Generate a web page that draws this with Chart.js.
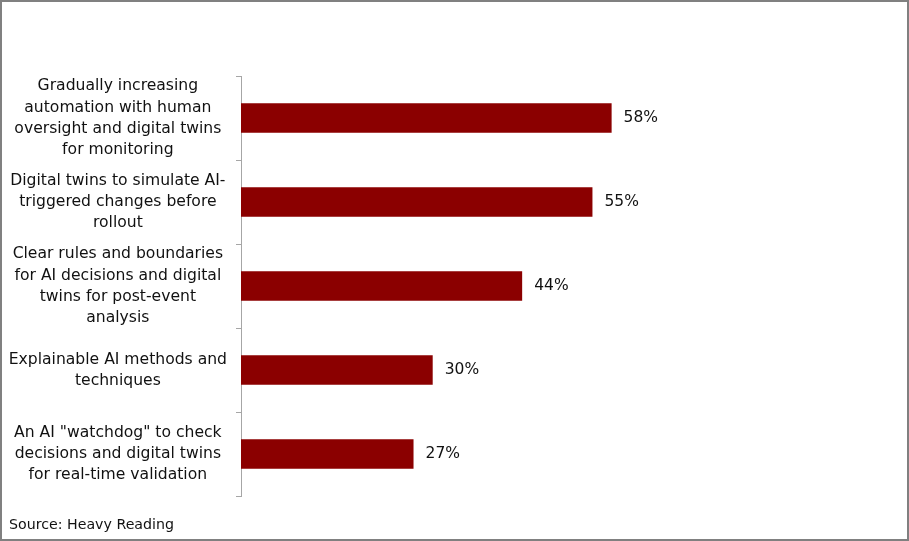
<!DOCTYPE html>
<html>
<head>
<meta charset="utf-8">
<script src="https://cdn.jsdelivr.net/npm/chart.js@4/dist/chart.umd.min.js"></script>
<style>
  html, body { margin: 0; padding: 0; background: #fff; }
  #wrap { position: relative; width: 909px; height: 541px; }
</style>
</head>
<body>
<div id="wrap"><canvas id="c" width="909" height="541"></canvas></div>
<script>
const categories = [
  ["Gradually increasing", "automation with human", "oversight and digital twins", "for monitoring"],
  ["Digital twins to simulate AI-", "triggered changes before", "rollout"],
  ["Clear rules and boundaries", "for AI decisions and digital", "twins for post-event", "analysis"],
  ["Explainable AI methods and", "techniques"],
  ["An AI \"watchdog\" to check", "decisions and digital twins", "for real-time validation"]
];
const values = [58, 55, 44, 30, 27];
const sourceText = "Source: Heavy Reading";

const FONT = "'DejaVu Sans', Verdana, sans-serif";

const valueLabels = {
  id: 'valueLabels',
  afterDatasetsDraw(chart) {
    const ctx = chart.ctx;
    const meta = chart.getDatasetMeta(0);
    ctx.save();
    ctx.font = "15.5px " + FONT;
    ctx.fillStyle = "#111";
    ctx.textAlign = "left";
    ctx.textBaseline = "middle";
    meta.data.forEach((bar, i) => {
      ctx.fillText(values[i] + "%", bar.x + 12, bar.y);
    });
    ctx.restore();
  }
};

const frame = {
  id: 'frame',
  afterDraw(chart) {
    const ctx = chart.ctx;
    ctx.save();
    ctx.font = "14.2px " + FONT;
    ctx.fillStyle = "#111";
    ctx.textAlign = "left";
    ctx.textBaseline = "middle";
    ctx.fillText(sourceText, 9, 525);
    ctx.strokeStyle = "#808080";
    ctx.lineWidth = 2;
    ctx.strokeRect(1, 1, chart.width - 2, chart.height - 2);
    ctx.restore();
  }
};

new Chart(document.getElementById('c'), {
  type: 'bar',
  data: {
    labels: categories,
    datasets: [{
      data: values,
      backgroundColor: '#8B0000',
      borderWidth: 0,
      categoryPercentage: 1,
      barPercentage: 0.35
    }]
  },
  options: {
    indexAxis: 'y',
    responsive: false,
    animation: false,
    devicePixelRatio: 1,
    layout: { padding: { top: 76, bottom: 45, left: 0, right: 29 } },
    plugins: { legend: { display: false }, tooltip: { enabled: false } },
    scales: {
      x: { display: false, min: 0, max: 100 },
      y: {
        afterFit(scale) { scale.width = 241; scale.paddingTop = 0; scale.paddingBottom = 0; },
        grid: { drawOnChartArea: false, drawTicks: true, tickLength: 5, color: '#a6a6a6', offset: true },
        border: { display: true, color: '#a6a6a6', width: 1 },
        ticks: {
          autoSkip: false,
          crossAlign: 'center',
          padding: 9,
          color: '#111',
          font: { family: FONT, size: 15.6, lineHeight: 1.35 }
        }
      }
    }
  },
  plugins: [valueLabels, frame]
});
</script>
</body>
</html>
